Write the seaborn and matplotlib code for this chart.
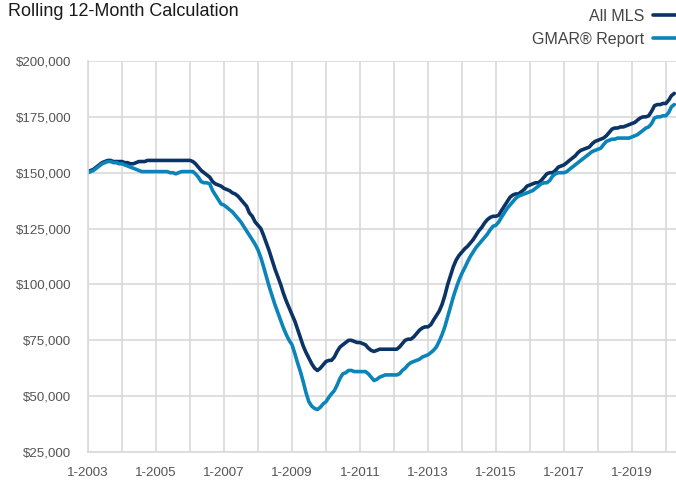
import numpy as np
import pandas as pd
import matplotlib
matplotlib.use("Agg")
import matplotlib.pyplot as plt
import matplotlib.dates as mdates
from matplotlib.ticker import FuncFormatter, FixedLocator
import seaborn as sns

# ---------------- data (monthly, rolling 12-month median, $ thousands) ----------------
start_month = "2003-01-01"

all_mls = [
    # 2003
    150.5, 151, 151.5, 152.5, 153.5, 154.5, 155, 155.5, 155.5, 155, 155, 155,
    # 2004
    155, 154.5, 154.5, 154, 154, 154.5, 155, 155, 155, 155.5, 155.5, 155.5,
    # 2005
    155.5, 155.5, 155.5, 155.5, 155.5, 155.5, 155.5, 155.5, 155.5, 155.5, 155.5, 155.5,
    # 2006
    155.5, 155, 154, 152.5, 151, 150, 149, 148, 146, 145, 144.5, 144,
    # 2007
    143, 142.5, 142, 141, 140.5, 139.5, 138, 136.5, 135, 132, 130.5, 128,
    # 2008
    126.5, 125, 122, 118.5, 115, 111, 107, 103.5, 100, 96, 92.5, 89.5,
    # 2009
    86.5, 83.5, 80, 76, 72.5, 69.5, 67, 64.5, 62.5, 61.5, 62.5, 64,
    # 2010
    65.5, 66, 66, 67.5, 70, 72, 73, 74, 75, 75, 74.5, 74,
    # 2011
    74, 73.5, 73, 71.5, 70.5, 70, 70.5, 71, 71, 71, 71, 71,
    # 2012
    71, 71, 72, 73.5, 75, 75.5, 75.5, 76.5, 78, 79.5, 80.5, 81,
    # 2013
    81, 82, 84, 86, 88, 91, 95, 100, 104, 108, 111, 113,
    # 2014
    114.5, 116, 117, 118.5, 120, 122, 124, 125.5, 127.5, 129, 130, 130.5,
    # 2015
    130.5, 131, 133, 135, 137, 139, 140, 140.5, 140.5, 141.5, 142.5, 144,
    # 2016
    144.5, 145, 145.5, 145.5, 146.5, 148, 149.5, 150, 150, 151, 152.5, 153,
    # 2017
    153.5, 154.5, 155.5, 156.5, 157.5, 159, 160, 160.5, 161, 161.5, 163, 164,
    # 2018
    164.5, 165, 165.5, 166.5, 168, 169.5, 170, 170, 170.5, 170.5, 171, 171.5,
    # 2019
    172, 172.5, 173.5, 174.5, 175, 175, 175.5, 177.5, 180, 180.5, 180.5, 181,
    # 2020
    181, 182.5, 184.5, 185.5,
]

gmar_report = [
    # 2003
    150, 150.5, 151, 152, 153, 154, 154.5, 155, 155, 154.5, 154.5, 154,
    # 2004
    154, 153.5, 153, 152.5, 152, 151.5, 151, 150.5, 150.5, 150.5, 150.5, 150.5,
    # 2005
    150.5, 150.5, 150.5, 150.5, 150.5, 150, 150, 149.5, 150, 150.5, 150.5, 150.5,
    # 2006
    150.5, 150.5, 149.5, 148, 146, 145.5, 145.5, 145, 142, 140, 138, 136,
    # 2007
    135.5, 134.5, 133.5, 132.5, 131, 129.5, 128, 126, 124, 122, 120, 118,
    # 2008
    115.5, 112, 108, 103.5, 99, 95, 91, 87.5, 84, 80.5, 77.5, 75,
    # 2009
    73, 69, 65, 61, 56.5, 51.5, 47.5, 45.5, 44.5, 44, 45, 46.5,
    # 2010
    47.5, 49.5, 51, 52.5, 55, 58, 60, 60.5, 61.5, 61.5, 61, 61,
    # 2011
    61, 61, 61, 60, 58.5, 57, 57.5, 58.5, 59, 59.5, 59.5, 59.5,
    # 2012
    59.5, 59.5, 60, 61.5, 62.5, 64, 65, 65.5, 66, 66.5, 67.5, 68,
    # 2013
    68.5, 69.5, 70.5, 72, 74.5, 77.5, 81, 85.5, 90, 94.5, 98.5, 102,
    # 2014
    105, 107.5, 110, 112.5, 114.5, 116.5, 118, 119.5, 121, 122.5, 124.5, 126,
    # 2015
    126.5, 128, 130, 132, 134, 135.5, 137, 138.5, 139.5, 140, 140.5, 141,
    # 2016
    141.5, 142, 143, 144, 145, 145.5, 145.5, 146.5, 148.5, 149.5, 150, 150,
    # 2017
    150, 150.5, 151.5, 152.5, 153.5, 154.5, 155.5, 156.5, 157.5, 158.5, 159.5, 160,
    # 2018
    160.5, 161, 162.5, 164, 164.5, 165, 165, 165.5, 165.5, 165.5, 165.5, 165.5,
    # 2019
    166, 166.5, 167, 168, 169, 170, 170.5, 172, 174.5, 175, 175, 175.5,
    # 2020
    175.5, 177, 179.5, 180.5,
]

series_names = ["All MLS", "GMAR® Report"]
series_colors = ["#0b3365", "#0b84ba"]
y_ticks = [25000, 50000, 75000, 100000, 125000, 150000, 175000, 200000]
x_label_years = [2003, 2005, 2007, 2009, 2011, 2013, 2015, 2017, 2019]
title_text = "Rolling 12-Month Calculation"

# ---------------- frame ----------------
dates = pd.date_range(start_month, periods=len(all_mls), freq="MS")
df = pd.DataFrame({
    "date": list(dates) * 2,
    "value": np.array(all_mls + gmar_report) * 1000.0,
    "series": [series_names[0]] * len(all_mls) + [series_names[1]] * len(gmar_report),
})

sns.set_style("white")
plt.rcParams["font.family"] = ["Liberation Sans", "DejaVu Sans"]

fig = plt.figure(figsize=(6.76, 4.82), dpi=100)
ax = fig.add_axes([88 / 676, (482 - 452) / 482, 1 - 88 / 676, (452 - 61) / 482])

sns.lineplot(data=df, x="date", y="value", hue="series", hue_order=series_names,
             palette=series_colors, linewidth=2.6, ax=ax, legend=False)

grid_c = "#d9d9d9"
ax.set_xlim(pd.Timestamp("2003-01-01"), pd.Timestamp("2020-04-19"))
ax.set_ylim(y_ticks[0], y_ticks[-1])
ax.xaxis.set_major_locator(mdates.YearLocator(1))
ax.xaxis.set_major_formatter(FuncFormatter(
    lambda v, p: ("1-%d" % mdates.num2date(v).year)
    if mdates.num2date(v).year in x_label_years else ""))
ax.yaxis.set_major_locator(FixedLocator(y_ticks))
ax.yaxis.set_major_formatter(FuncFormatter(lambda v, p: "${:,.0f}".format(v)))

ax.set_axisbelow(True)
ax.grid(True, color=grid_c, linewidth=1.2)
for s in ["top", "right"]:
    ax.spines[s].set_visible(False)
for s in ["left", "bottom"]:
    ax.spines[s].set_color(grid_c)
    ax.spines[s].set_linewidth(1.2)
ax.tick_params(axis="both", length=5, width=1.2, color=grid_c,
               labelcolor="#555555", labelsize=9.6)
ax.tick_params(axis="y", pad=7)
ax.tick_params(axis="x", pad=6)
ax.set_xlabel("")
ax.set_ylabel("")

# legend (text left of line sample)
handles = [plt.Line2D([], [], color=c, linewidth=2.6) for c in series_colors]
leg = fig.legend(handles, series_names, loc="upper right", bbox_to_anchor=(1.013, 1.0),
                 frameon=False, markerfirst=False, fontsize=11.5, handlelength=1.45,
                 handletextpad=0.55, labelspacing=0.5, borderpad=0.45,
                 borderaxespad=0.1)
for t in leg.get_texts():
    t.set_color("#454545")
    t.set_ha("right")

fig.text(8 / 676, 1 - 16 / 482, title_text, fontsize=13, color="#1a1a1a",
         ha="left", va="baseline")

fig.savefig("out.png", dpi=100)
